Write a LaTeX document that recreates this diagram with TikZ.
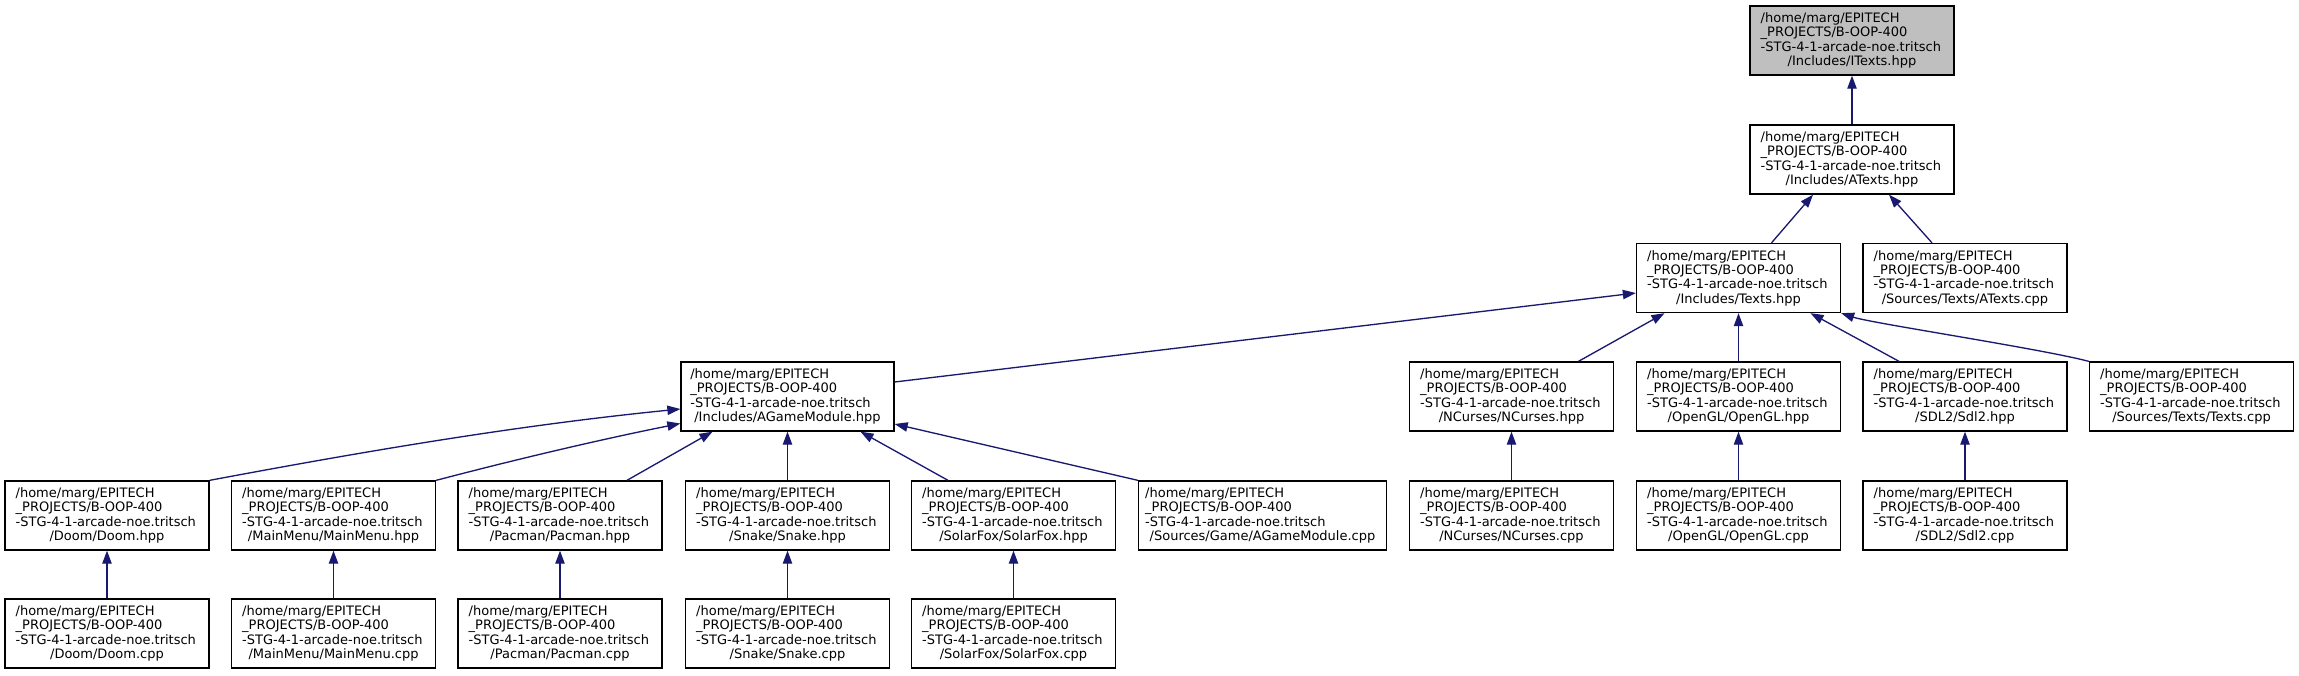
\documentclass[tikz,border=0pt]{standalone}
\usepackage{fontspec}
\newfontfamily\dxdvs{DejaVu Sans}
\usetikzlibrary{arrows.meta,calc}
\definecolor{navy}{HTML}{191970}
\definecolor{greyfill}{HTML}{BFBFBF}
\newcommand\dxfont{\dxdvs\fontsize{9.75}{10.75}\selectfont\hyphenpenalty=10000\exhyphenpenalty=10000}
\newcommand\dxlabel[1]{\raggedright /home/marg/EPITECH\par \_PROJECTS/B-OOP-400\par -STG-4-1-arcade-noe.tritsch\par\centering #1\par}
\begin{document}
\begin{tikzpicture}[x=0.75pt,y=-0.75pt,
  box/.style={draw=black, line width=1pt, minimum height=51.75pt, inner xsep=8pt, inner ysep=0pt, text width=137pt, font=\dxfont},
  gbox/.style={box, fill=greyfill},
  wbox/.style={box, inner xsep=7pt, text width=145.75pt},
  xbox/.style={box, inner xsep=5pt, text width=176pt},
  dep/.style={draw=navy, line width=1pt, -{Triangle[length=9.75pt,width=7pt,fill=navy]}}]
\useasboundingbox (0,0) rectangle (2299,675);
% row 1-3
\node[gbox] (itexts) at (1852,40.5) {\dxlabel{/Includes/ITexts.hpp}};
\node[box] (atexts) at (1852,159.5) {\dxlabel{/Includes/ATexts.hpp}};
\node[box] (texts) at (1738.5,278) {\dxlabel{/Includes/Texts.hpp}};
\node[box] (atextscpp) at (1965,278) {\dxlabel{/Sources/Texts/ATexts.cpp}};
% row 4
\node[wbox] (agm) at (787.5,396.5) {\dxlabel{/Includes/AGameModule.hpp}};
\node[box] (ncurses) at (1511.5,396.5) {\dxlabel{/NCurses/NCurses.hpp}};
\node[box] (opengl) at (1738.5,396.5) {\dxlabel{/OpenGL/OpenGL.hpp}};
\node[box] (sdl2) at (1965,396.5) {\dxlabel{/SDL2/Sdl2.hpp}};
\node[box] (textscpp) at (2191.5,396.5) {\dxlabel{/Sources/Texts/Texts.cpp}};
% row 5
\node[box] (doom) at (107,515.5) {\dxlabel{/Doom/Doom.hpp}};
\node[box] (mainmenu) at (333.5,515.5) {\dxlabel{/MainMenu/MainMenu.hpp}};
\node[box] (pacman) at (560,515.5) {\dxlabel{/Pacman/Pacman.hpp}};
\node[box] (snake) at (787.5,515.5) {\dxlabel{/Snake/Snake.hpp}};
\node[box] (solarfox) at (1013.5,515.5) {\dxlabel{/SolarFox/SolarFox.hpp}};
\node[xbox] (agmcpp) at (1262.5,515.5) {\dxlabel{/Sources/Game/AGameModule.cpp}};
\node[box] (ncursescpp) at (1511.5,515.5) {\dxlabel{/NCurses/NCurses.cpp}};
\node[box] (openglcpp) at (1738.5,515.5) {\dxlabel{/OpenGL/OpenGL.cpp}};
\node[box] (sdl2cpp) at (1965,515.5) {\dxlabel{/SDL2/Sdl2.cpp}};
% row 6
\node[box] (doomcpp) at (107,633.5) {\dxlabel{/Doom/Doom.cpp}};
\node[box] (mainmenucpp) at (333.5,633.5) {\dxlabel{/MainMenu/MainMenu.cpp}};
\node[box] (pacmancpp) at (560,633.5) {\dxlabel{/Pacman/Pacman.cpp}};
\node[box] (snakecpp) at (787.5,633.5) {\dxlabel{/Snake/Snake.cpp}};
\node[box] (solarfoxcpp) at (1013.5,633.5) {\dxlabel{/SolarFox/SolarFox.cpp}};
% edges
\draw[dep] (atexts.north) -- (itexts.south);
\draw[dep] ($(texts.north)+(33,0)$) -- ($(atexts.south)+(-39,0)$);
\draw[dep] ($(atextscpp.north)+(-33,0)$) -- ($(atexts.south)+(37,0)$);
\draw[dep] ($(agm.east)+(0,-14.5)$) -- ($(texts.west)+(0,15)$);
\draw[dep] ($(ncurses.north)+(67,0)$) -- ($(texts.south)+(-74,0)$);
\draw[dep] (opengl.north) -- (texts.south);
\draw[dep] ($(sdl2.north)+(-66,0)$) -- ($(texts.south)+(72,0)$);
\draw[dep] (textscpp.north west) .. controls ($(textscpp.north west)+(-50,-13)$) and ($(texts.south east)+(30,10)$) .. (texts.south east);
\draw[dep] (doom.north east) .. controls ($(doom.north east)+(160,-30)$) and ($(agm.west)+(-160,28.5)$) .. ($(agm.west)+(0,12.5)$);
\draw[dep] (mainmenu.north east) .. controls ($(mainmenu.north east)+(80,-21)$) and ($(agm.west)+(-80,43)$) .. ($(agm.west)+(0,27)$);
\draw[dep] ($(pacman.north)+(67,0)$) -- ($(agm.south)+(-75,0)$);
\draw[dep] (snake.north) -- (agm.south);
\draw[dep] ($(solarfox.north)+(-65.5,0)$) -- ($(agm.south)+(73,0)$);
\draw[dep] (agmcpp.north west) -- ($(agm.east)+(0,27.5)$);
\draw[dep] (ncursescpp.north) -- (ncurses.south);
\draw[dep] (openglcpp.north) -- (opengl.south);
\draw[dep] (sdl2cpp.north) -- (sdl2.south);
\draw[dep] (doomcpp.north) -- (doom.south);
\draw[dep] (mainmenucpp.north) -- (mainmenu.south);
\draw[dep] (pacmancpp.north) -- (pacman.south);
\draw[dep] (snakecpp.north) -- (snake.south);
\draw[dep] (solarfoxcpp.north) -- (solarfox.south);
\end{tikzpicture}
\end{document}
